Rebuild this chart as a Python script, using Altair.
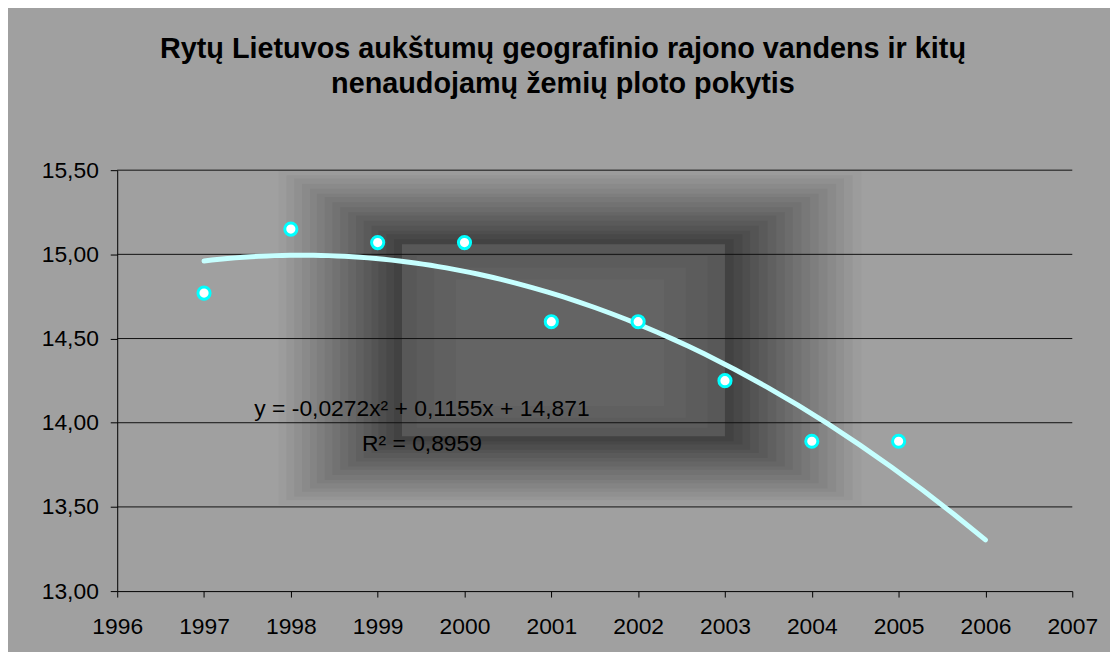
import altair as alt
import pandas as pd

# ---- data ----
years = [1997, 1998, 1999, 2000, 2001, 2002, 2003, 2004, 2005]
values = [14.77, 15.15, 15.07, 15.07, 14.60, 14.60, 14.25, 13.89, 13.89]
x_ticks = [1996, 1997, 1998, 1999, 2000, 2001, 2002, 2003, 2004, 2005, 2006, 2007]
y_ticks = [13.0, 13.5, 14.0, 14.5, 15.0, 15.5]
grid_values = [13.5, 14.0, 14.5, 15.0, 15.5]
trend_extent = [1997, 2006]
title_lines = ["Rytų Lietuvos aukštumų geografinio rajono vandens ir kitų",
               "nenaudojamų žemių ploto pokytis"]
equation_lines = ["y = -0,0272x² + 0,1155x + 14,871", "R² = 0,8959"]

# ---- decorative background shading of the plot area (nested bands, data units) ----
bg_x1 = [1997.86, 1997.95, 1998.04, 1998.13, 1998.22, 1998.30, 1998.39, 1998.48,
         1998.57, 1998.66, 1998.75, 1998.84, 1998.93, 1999.01, 1999.10, 1999.19,
         1999.28, 1999.45, 1999.65, 1999.90]
bg_x2 = [2004.57, 2004.47, 2004.37, 2004.28, 2004.18, 2004.08, 2003.98, 2003.88,
         2003.78, 2003.69, 2003.59, 2003.49, 2003.39, 2003.29, 2003.20, 2003.10,
         2003.00, 2002.80, 2002.55, 2002.30]
bg_y1 = [13.51, 13.54, 13.56, 13.59, 13.61, 13.64, 13.66, 13.69,
         13.72, 13.74, 13.77, 13.79, 13.82, 13.84, 13.87, 13.89,
         13.92, 13.97, 14.03, 14.10]
bg_y2 = [15.50, 15.47, 15.45, 15.42, 15.39, 15.36, 15.34, 15.31,
         15.28, 15.25, 15.23, 15.20, 15.17, 15.14, 15.12, 15.09,
         15.06, 14.99, 14.92, 14.85]
bg_col = ["#9c9c9c", "#969696", "#909090", "#8a8a8a", "#848484", "#7e7e7e", "#787878", "#727272",
          "#6c6c6c", "#666666", "#606060", "#5a5a5a", "#545454", "#4e4e4e", "#484848", "#424242",
          "#585858", "#5c5c5c", "#606060", "#646464"]

FONT = "Liberation Sans"

df = pd.DataFrame({"year": years, "value": values})
bg = pd.DataFrame({"x1": bg_x1, "x2": bg_x2, "y1": bg_y1, "y2": bg_y2, "c": bg_col})
bg["order"] = range(len(bg))
grid_df = pd.DataFrame({"value": grid_values})
eq_df = pd.DataFrame({"k": [0]})

xscale = alt.Scale(domain=[1996, 2007], nice=False, zero=False)
yscale = alt.Scale(domain=[13.0, 15.5], nice=False, zero=False)

xaxis = alt.Axis(values=x_ticks, format="d", title=None, grid=False,
                 domainColor="black", domainWidth=1, tickColor="black", tickSize=6,
                 tickWidth=1, labelFontSize=23, labelFont=FONT, labelColor="black",
                 labelPadding=19, labelFlush=False, labelOverlap=False)
yaxis = alt.Axis(values=y_ticks, title=None, grid=False,
                 labelExpr="replace(format(datum.value, '.2f'), '.', ',')",
                 domainColor="black", domainWidth=1, tickColor="black", tickSize=7,
                 tickWidth=1, labelFontSize=23, labelFont=FONT, labelColor="black",
                 labelPadding=12, labelFlush=False, labelOverlap=False)

background = alt.Chart(bg).mark_rect(strokeWidth=0).encode(
    x=alt.X("x1:Q", scale=xscale, axis=xaxis),
    x2="x2:Q",
    y=alt.Y("y1:Q", scale=yscale, axis=yaxis),
    y2="y2:Q",
    fill=alt.Fill("c:N", scale=None),
    order=alt.Order("order:Q"),
)

gridlines = alt.Chart(grid_df).mark_rule(color="#111111", strokeWidth=1).encode(
    y=alt.Y("value:Q", scale=yscale, axis=yaxis),
)

trend = alt.Chart(df).transform_regression(
    "year", "value", method="poly", order=2, extent=trend_extent
).mark_line(color="#c6ffff", strokeWidth=5, strokeCap="round").encode(
    x=alt.X("year:Q", scale=xscale, axis=xaxis),
    y=alt.Y("value:Q", scale=yscale, axis=yaxis),
)

points = alt.Chart(df).mark_point(
    shape="circle", filled=True, fill="white", stroke="#00ffff",
    strokeWidth=3, size=150, opacity=1
).encode(
    x=alt.X("year:Q", scale=xscale, axis=xaxis),
    y=alt.Y("value:Q", scale=yscale, axis=yaxis),
)

equation = alt.Chart(eq_df).mark_text(
    text=equation_lines, align="center", baseline="alphabetic",
    fontSize=23, font=FONT, color="black", lineHeight=35
).encode(x=alt.value(307), y=alt.value(248))

chart = alt.layer(background, gridlines, trend, points, equation).properties(
    width=962, height=424,
    autosize=alt.AutoSizeParams(type="none"),
    padding={"left": 110, "top": 161, "right": 38, "bottom": 59},
    background="#a0a0a0",
    title=alt.TitleParams(text=title_lines, fontSize=29, font=FONT, fontWeight="bold",
                          color="black", lineHeight=35, anchor="middle", dx=-32,
                          offset=61),
).configure_view(stroke=None, fill="#a0a0a0")

chart.save("out.html", embed_options={"renderer": "svg", "actions": False})
